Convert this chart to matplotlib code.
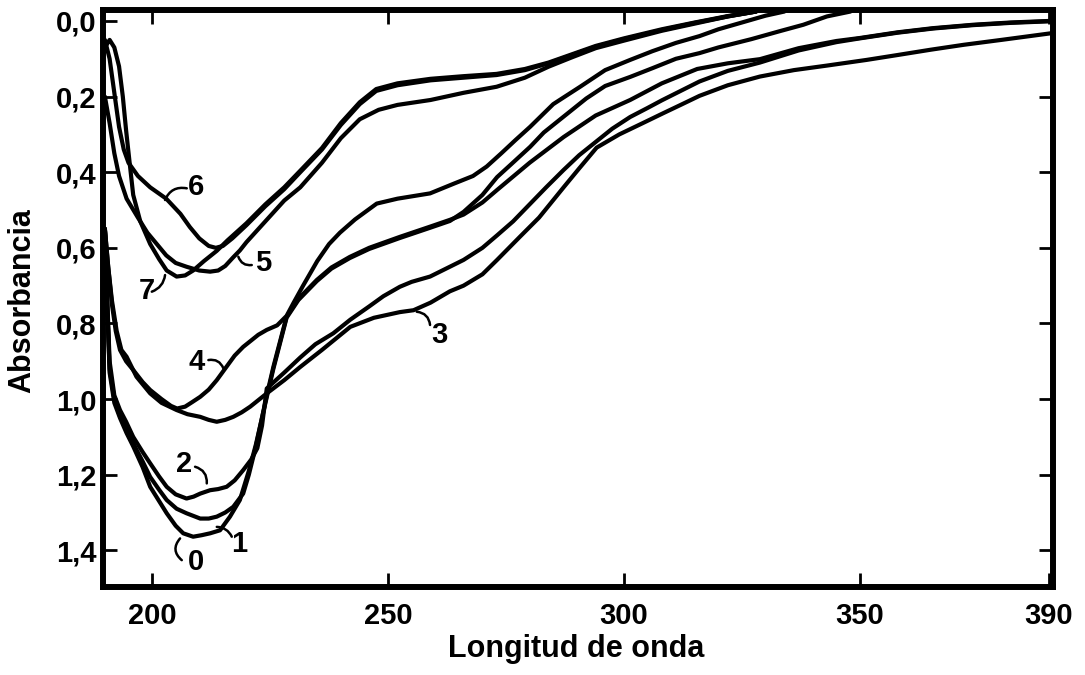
import matplotlib
matplotlib.use("Agg")
import matplotlib.pyplot as plt

# UV absorption spectra, curves 0-7 (wavelength in nm, absorbance)
wl_0 = [190, 190.4, 191, 192, 193.2, 194.6, 196, 198, 199.6, 201.5, 203.1, 205, 206.6, 208.7, 210.5, 212.3, 214.4,
        216.5, 218.6, 220.5, 222, 224.3, 225.7, 228.5, 231, 234.9, 238, 241.9, 246, 252.5, 258.9, 263.1, 266, 270,
        273.1, 276, 280.1, 283, 287.2, 292, 296, 301.3, 306, 311, 316, 320, 327, 333, 338, 343, 348]
ab_0 = [0.55, 0.72, 0.93, 1.01, 1.05, 1.09, 1.125, 1.18, 1.232, 1.27, 1.302, 1.335, 1.355, 1.364, 1.36, 1.355, 1.347,
        1.311, 1.267, 1.19, 1.12, 0.995, 0.92, 0.785, 0.738, 0.688, 0.655, 0.627, 0.603, 0.574, 0.547, 0.529, 0.505, 0.46,
        0.413, 0.38, 0.333, 0.295, 0.253, 0.205, 0.172, 0.148, 0.125, 0.1, 0.085, 0.07, 0.048, 0.027, 0.01, -0.012,
        -0.025]

wl_1 = [190, 190.4, 191, 192, 193.2, 194.6, 196, 198, 199.6, 201.5, 203.1, 205.2, 207.3, 210.2, 212, 213.7, 215.5,
        217.2, 219.3, 220.5, 222, 224.3, 225.7, 228.5, 231, 234.9, 238, 241.9, 246, 252.5, 258.9, 263.1, 266, 270,
        273.1, 280, 287.2, 294, 301.3, 308, 315.5, 322, 328.8, 337, 345, 350, 358, 365.5, 374, 382, 390, 392]
ab_1 = [0.55, 0.72, 0.92, 1.0, 1.045, 1.08, 1.117, 1.165, 1.206, 1.24, 1.267, 1.29, 1.302, 1.316, 1.316, 1.311, 1.30,
        1.285, 1.25, 1.2, 1.125, 0.99, 0.915, 0.782, 0.735, 0.685, 0.652, 0.624, 0.60, 0.571, 0.544, 0.526, 0.512, 0.48,
        0.447, 0.375, 0.307, 0.25, 0.209, 0.165, 0.127, 0.112, 0.101, 0.072, 0.053, 0.045, 0.03, 0.019, 0.01, 0.004,
        0.0, -0.002]

wl_2 = [190, 190.4, 191, 192, 193.2, 194.5, 196, 198, 199.6, 201.5, 203.1, 205, 207.3, 208.8, 210.2, 212.3, 214,
        215.8, 217.5, 219.3, 221, 222.3, 223.3, 224.3, 228, 231.4, 234.6, 238.4, 242, 246, 249, 252.5, 255, 258.9,
        263.1, 266, 270, 273.1, 276.5, 280, 283.5, 287.2, 290.5, 294, 297.5, 301.3, 305, 308, 312, 316, 322, 328.8,
        337, 345, 350, 358, 365.5, 374, 382, 390, 392]
ab_2 = [0.55, 0.70, 0.90, 0.99, 1.029, 1.06, 1.10, 1.14, 1.17, 1.205, 1.232, 1.252, 1.263, 1.258, 1.25, 1.241, 1.238,
        1.232, 1.215, 1.188, 1.16, 1.13, 1.07, 0.972, 0.93, 0.89, 0.855, 0.826, 0.79, 0.755, 0.728, 0.703, 0.69, 0.676,
        0.65, 0.632, 0.60, 0.567, 0.53, 0.485, 0.44, 0.394, 0.355, 0.32, 0.285, 0.254, 0.23, 0.21, 0.185, 0.16, 0.132,
        0.11, 0.078, 0.056, 0.046, 0.031, 0.02, 0.011, 0.005, 0.001, -0.001]

wl_3 = [190, 190.7, 191.5, 192.5, 193.5, 194.6, 196.7, 199.6, 202, 205.2, 207.5, 210.2, 212, 213.7, 215.5, 217.2,
        219, 220.8, 222.5, 224.3, 228, 231.4, 236, 242, 247, 252.5, 255.4, 259, 263.1, 266, 270, 273.1, 278, 282,
        287.2, 290.5, 294.2, 299, 304, 308.3, 312, 316, 322, 328.8, 336, 343, 351.4, 358, 365, 372, 380, 386, 392]
ab_3 = [0.55, 0.65, 0.74, 0.82, 0.87, 0.888, 0.941, 0.985, 1.01, 1.029, 1.04, 1.047, 1.055, 1.06, 1.055, 1.047,
        1.035, 1.02, 1.003, 0.985, 0.95, 0.915, 0.87, 0.809, 0.785, 0.77, 0.765, 0.745, 0.715, 0.70, 0.67, 0.632, 0.57,
        0.52, 0.44, 0.39, 0.335, 0.30, 0.27, 0.244, 0.222, 0.198, 0.17, 0.147, 0.13, 0.118, 0.103, 0.09, 0.076, 0.063,
        0.05, 0.04, 0.03]

wl_4 = [190, 190.7, 191.5, 192.3, 193.2, 194.5, 196, 198, 199.6, 202, 204, 205.3, 207, 208.5, 210.2, 212, 213.7,
        215.8, 217.5, 219.3, 221, 222.5, 224.3, 226.5, 228.5, 230, 232, 235, 237.5, 239.8, 243, 247.6, 252, 258.9,
        264, 268, 270.9, 274, 277, 280.1, 285, 290.7, 296, 301.3, 306, 311, 316, 320, 325, 330, 334]
ab_4 = [0.55, 0.65, 0.75, 0.82, 0.87, 0.90, 0.923, 0.955, 0.976, 1.0, 1.018, 1.025, 1.02, 1.008, 0.994, 0.975, 0.95,
        0.914, 0.885, 0.862, 0.845, 0.83, 0.817, 0.805, 0.78, 0.745, 0.70, 0.635, 0.59, 0.56, 0.525, 0.483, 0.47,
        0.456, 0.43, 0.41, 0.385, 0.35, 0.315, 0.28, 0.22, 0.174, 0.13, 0.103, 0.08, 0.058, 0.04, 0.022, 0.004,
        -0.014, -0.025]

wl_5 = [190, 191, 192, 193, 194.6, 197, 199, 201, 203, 205, 207.3, 210, 212.3, 214, 215.5, 217.2, 218.6, 220, 224,
        228, 231.4, 236, 240, 244, 248, 252, 259, 266, 273, 279, 284, 289, 294, 300, 308, 315, 322, 328]
ab_5 = [0.2, 0.27, 0.35, 0.41, 0.47, 0.52, 0.56, 0.59, 0.62, 0.64, 0.65, 0.66, 0.663, 0.66, 0.648, 0.625, 0.607,
        0.585, 0.53, 0.475, 0.44, 0.375, 0.31, 0.26, 0.235, 0.222, 0.209, 0.19, 0.174, 0.15, 0.121, 0.096, 0.072,
        0.052, 0.026, 0.007, -0.012, -0.025]

wl_6 = [190, 191, 192, 193, 194, 195, 197, 199.6, 203, 206, 208, 210, 212, 213.5, 215, 217, 220, 224, 228, 231.4,
        236, 240, 244, 247.5, 252, 259, 266, 273, 279, 284, 289, 294, 300, 308, 315, 322, 328]
ab_6 = [0.05, 0.10, 0.19, 0.28, 0.34, 0.375, 0.41, 0.44, 0.47, 0.51, 0.545, 0.575, 0.595, 0.60, 0.595, 0.575, 0.54,
        0.49, 0.445, 0.40, 0.34, 0.275, 0.22, 0.185, 0.17, 0.157, 0.15, 0.143, 0.13, 0.112, 0.09, 0.068, 0.048, 0.024,
        0.005, -0.012, -0.025]

wl_7 = [190, 191, 192, 193, 193.8, 194.5, 195.2, 196, 197.5, 199.6, 201.5, 203.1, 205.2, 207, 208.7, 211, 213.7,
        216, 220, 224, 228, 231.4, 236, 240, 244, 247.5, 252, 259, 266, 273, 279, 284, 289, 294, 300, 308, 315, 322,
        328]
ab_7 = [0.07, 0.05, 0.07, 0.12, 0.20, 0.29, 0.37, 0.46, 0.53, 0.59, 0.63, 0.66, 0.676, 0.673, 0.66, 0.635, 0.608,
        0.58, 0.535, 0.485, 0.44, 0.396, 0.336, 0.27, 0.215, 0.18, 0.165, 0.153, 0.146, 0.14, 0.127, 0.11, 0.088,
        0.066, 0.046, 0.022, 0.004, -0.013, -0.025]

curve_names = ["0", "1", "2", "3", "4", "5", "6", "7"]

x_ticks = [200, 250, 300, 350, 390]
x_tick_labels = ["200", "250", "300", "350", "390"]
y_ticks = [0.0, 0.2, 0.4, 0.6, 0.8, 1.0, 1.2, 1.4]
y_tick_labels = ["0,0", "0,2", "0,4", "0,6", "0,8", "1,0", "1,2", "1,4"]

x_label = "Longitud de onda"
y_label = "Absorbancia"

curves = [(wl_0, ab_0), (wl_1, ab_1), (wl_2, ab_2), (wl_3, ab_3),
          (wl_4, ab_4), (wl_5, ab_5), (wl_6, ab_6), (wl_7, ab_7)]

# label placement: text position, hook start, hook end, hook curvature
label_layout = {
    "0": ((209.3, 1.432), (205.93, 1.3685), (206.29, 1.426), 0.5),
    "1": ((218.5, 1.384), (213.71, 1.338), (216.89, 1.364), -0.3),
    "2": ((206.8, 1.172), (209.11, 1.179), (211.59, 1.223), -0.4),
    "3": ((260.9, 0.831), (256.08, 0.769), (258.90, 0.804), -0.4),
    "4": ((209.5, 0.901), (211.93, 0.8968), (215.11, 0.9188), -0.4),
    "5": ((223.6, 0.641), (218.28, 0.6235), (221.12, 0.6455), 0.4),
    "6": ((209.3, 0.438), (202.75, 0.4735), (207.35, 0.4426), -0.4),
    "7": ((198.9, 0.714), (199.94, 0.716), (202.75, 0.672), 0.3),
}

FONT = ["Liberation Sans", "DejaVu Sans"]
plt.rcParams["font.family"] = FONT

fig = plt.figure(figsize=(10.85, 6.75), dpi=100)
ax = fig.add_axes([103 / 1085, 1 - 587 / 675, 950 / 1085, 577 / 675])

for wl, ab in curves:
    ax.plot(wl, ab, color="black", lw=3.0, solid_capstyle="round", solid_joinstyle="round")

for name in curve_names:
    (tx, ty), start, end, rad = label_layout[name]
    ax.text(tx, ty, name, ha="center", va="center", fontsize=21, fontweight="bold")
    ax.annotate("", xy=end, xytext=start,
                arrowprops=dict(arrowstyle="-", color="black", lw=1.8,
                                connectionstyle=f"arc3,rad={rad}",
                                shrinkA=0, shrinkB=0))

ax.set_xlim(189.6, 390.9)
ax.set_ylim(1.497, -0.029)

ax.set_xticks(x_ticks)
ax.set_xticklabels(x_tick_labels)
ax.set_yticks(y_ticks)
ax.set_yticklabels(y_tick_labels)

ax.tick_params(axis="both", which="major", direction="in", length=10, width=2,
               top=True, right=True, labelsize=21)
ax.tick_params(axis="x", pad=10.5)
ax.tick_params(axis="y", pad=4.5)
for lab in ax.get_xticklabels() + ax.get_yticklabels():
    lab.set_fontweight("bold")

for sp in ax.spines.values():
    sp.set_linewidth(4.3)
    sp.set_capstyle("projecting")

ax.set_xlabel(x_label, fontsize=22, fontweight="bold", va="center")
ax.xaxis.set_label_coords(0.498, -0.107)
ax.set_ylabel(y_label, fontsize=22, fontweight="bold", va="center")
ax.yaxis.set_label_coords(-0.085, 0.497)

fig.savefig("out.png", dpi=100)
